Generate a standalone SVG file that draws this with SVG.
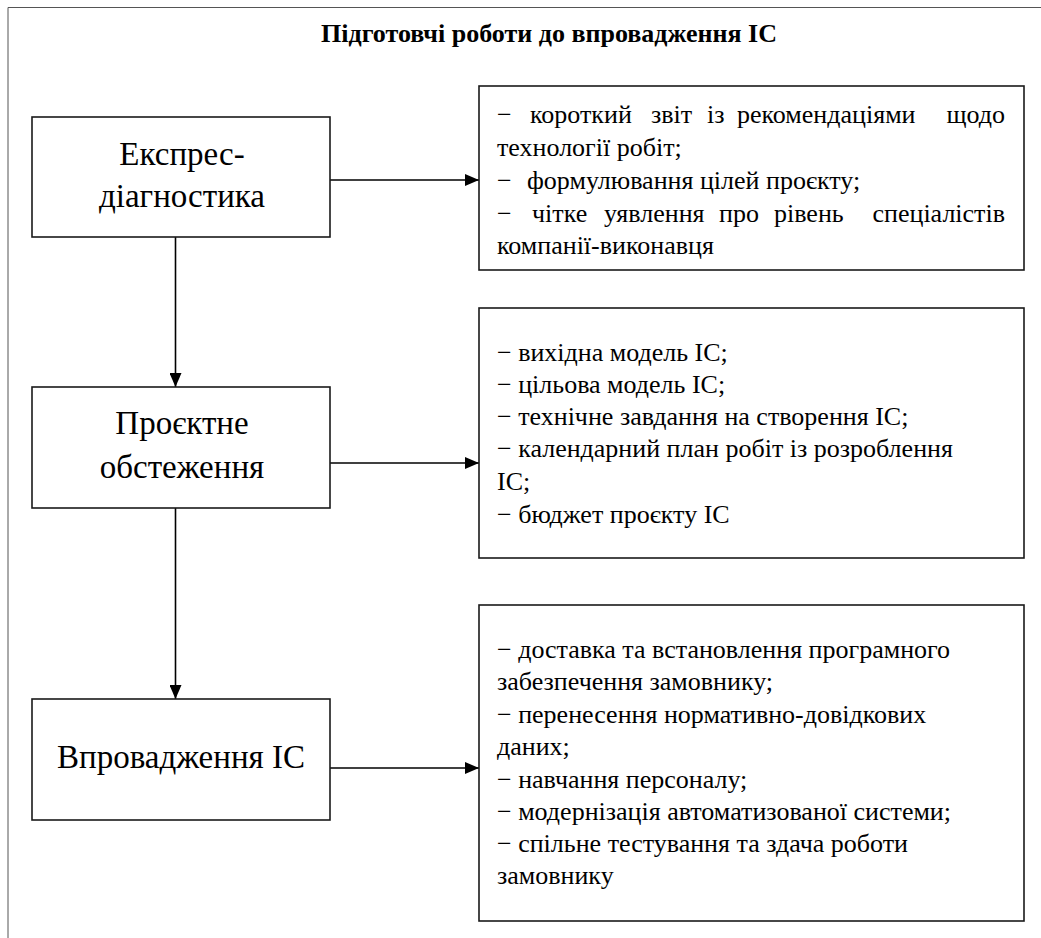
<svg xmlns="http://www.w3.org/2000/svg" width="1041" height="938" viewBox="0 0 1041 938" font-family="Liberation Serif">
<style>
.dgFrame{fill:none;stroke:#555;stroke-width:1}
.dgBox{fill:#fff;stroke:#1a1a1a;stroke-width:1.6}
.dgEdge{fill:none;stroke:#000;stroke-width:1.6}
.dgTitle{font-size:26px;font-weight:bold;fill:#000}
.dgName{font-size:33px;fill:#000;text-anchor:middle}
.dgItem{font-size:26px;fill:#000}
</style>
<defs>
<marker id="arr" viewBox="0 0 14 12" refX="14" refY="6" markerWidth="14" markerHeight="12" markerUnits="userSpaceOnUse" orient="auto">
<path d="M0,0 L14,6 L0,12 Z" fill="#000"/>
</marker>
</defs>
<rect width="1041" height="938" fill="#fff"/>
<path class="dgFrame" d="M8,938 V7.5 H1041"/>
<text class="dgTitle" x="549" y="42" text-anchor="middle" font-family="Liberation Serif">Підготовчі роботи до впровадження ІС</text>

<g id="connectors">
<line class="dgEdge" x1="175.5" y1="237" x2="175.5" y2="387" marker-end="url(#arr)"/>
<line class="dgEdge" x1="175.5" y1="508" x2="175.5" y2="699" marker-end="url(#arr)"/>
<line class="dgEdge" x1="330" y1="180" x2="479" y2="180" marker-end="url(#arr)"/>
<line class="dgEdge" x1="330" y1="463" x2="479" y2="463" marker-end="url(#arr)"/>
<line class="dgEdge" x1="330" y1="768" x2="479" y2="768" marker-end="url(#arr)"/>
</g>

<g id="node-express">
<rect class="dgBox" x="32" y="117" width="298" height="120"/>
<g font-family="Liberation Serif">
<text class="dgName" x="182" y="165" font-family="Liberation Serif">Експрес-</text>
<text class="dgName" x="182" y="207" font-family="Liberation Serif">діагностика</text>
</g>
</g>

<g id="node-survey">
<rect class="dgBox" x="32" y="387" width="298" height="121"/>
<g font-family="Liberation Serif">
<text class="dgName" x="182" y="434" font-family="Liberation Serif">Проєктне</text>
<text class="dgName" x="182" y="478" font-family="Liberation Serif">обстеження</text>
</g>
</g>

<g id="node-implement">
<rect class="dgBox" x="32" y="699" width="298" height="121"/>
<g font-family="Liberation Serif">
<text class="dgName" x="181" y="768" font-family="Liberation Serif">Впровадження ІС</text>
</g>
</g>

<g id="result-express">
<rect class="dgBox" x="479" y="86" width="545" height="184"/>
<g font-family="Liberation Serif">
<text class="dgItem" y="123" font-family="Liberation Serif"><tspan x="497">−</tspan><tspan x="530">короткий</tspan><tspan x="651">звіт</tspan><tspan x="707">із</tspan><tspan x="737">рекомендаціями</tspan><tspan x="1005" text-anchor="end">щодо</tspan></text>
<text class="dgItem" x="497" y="156" font-family="Liberation Serif">технології робіт;</text>
<text class="dgItem" y="189" font-family="Liberation Serif"><tspan x="497">−</tspan><tspan x="527">формулювання цілей проєкту;</tspan></text>
<text class="dgItem" y="222" font-family="Liberation Serif"><tspan x="497">−</tspan><tspan x="532">чітке</tspan><tspan x="604">уявлення</tspan><tspan x="719">про</tspan><tspan x="774">рівень</tspan><tspan x="1005" text-anchor="end">спеціалістів</tspan></text>
<text class="dgItem" x="497" y="254" font-family="Liberation Serif">компанії-виконавця</text>
</g>
</g>

<g id="result-survey">
<rect class="dgBox" x="479" y="308" width="545" height="250"/>
<g font-family="Liberation Serif">
<text class="dgItem" x="497" y="361" font-family="Liberation Serif">− вихідна модель ІС;</text>
<text class="dgItem" x="497" y="393" font-family="Liberation Serif">− цільова модель ІС;</text>
<text class="dgItem" x="497" y="425" font-family="Liberation Serif">− технічне завдання на створення ІС;</text>
<text class="dgItem" x="497" y="457" font-family="Liberation Serif">− календарний план робіт із розроблення</text>
<text class="dgItem" x="497" y="490" font-family="Liberation Serif">ІС;</text>
<text class="dgItem" x="497" y="523" font-family="Liberation Serif">− бюджет проєкту ІС</text>
</g>
</g>

<g id="result-implement">
<rect class="dgBox" x="479" y="605" width="545" height="316"/>
<g font-family="Liberation Serif">
<text class="dgItem" x="497" y="658" font-family="Liberation Serif">− доставка та встановлення програмного</text>
<text class="dgItem" x="497" y="690" font-family="Liberation Serif">забезпечення замовнику;</text>
<text class="dgItem" x="497" y="723" font-family="Liberation Serif">− перенесення нормативно-довідкових</text>
<text class="dgItem" x="497" y="755" font-family="Liberation Serif">даних;</text>
<text class="dgItem" x="497" y="788" font-family="Liberation Serif">− навчання персоналу;</text>
<text class="dgItem" x="497" y="820" font-family="Liberation Serif">− модернізація автоматизованої системи;</text>
<text class="dgItem" x="497" y="852" font-family="Liberation Serif">− спільне тестування та здача роботи</text>
<text class="dgItem" x="497" y="884" font-family="Liberation Serif">замовнику</text>
</g>
</g>
</svg>
